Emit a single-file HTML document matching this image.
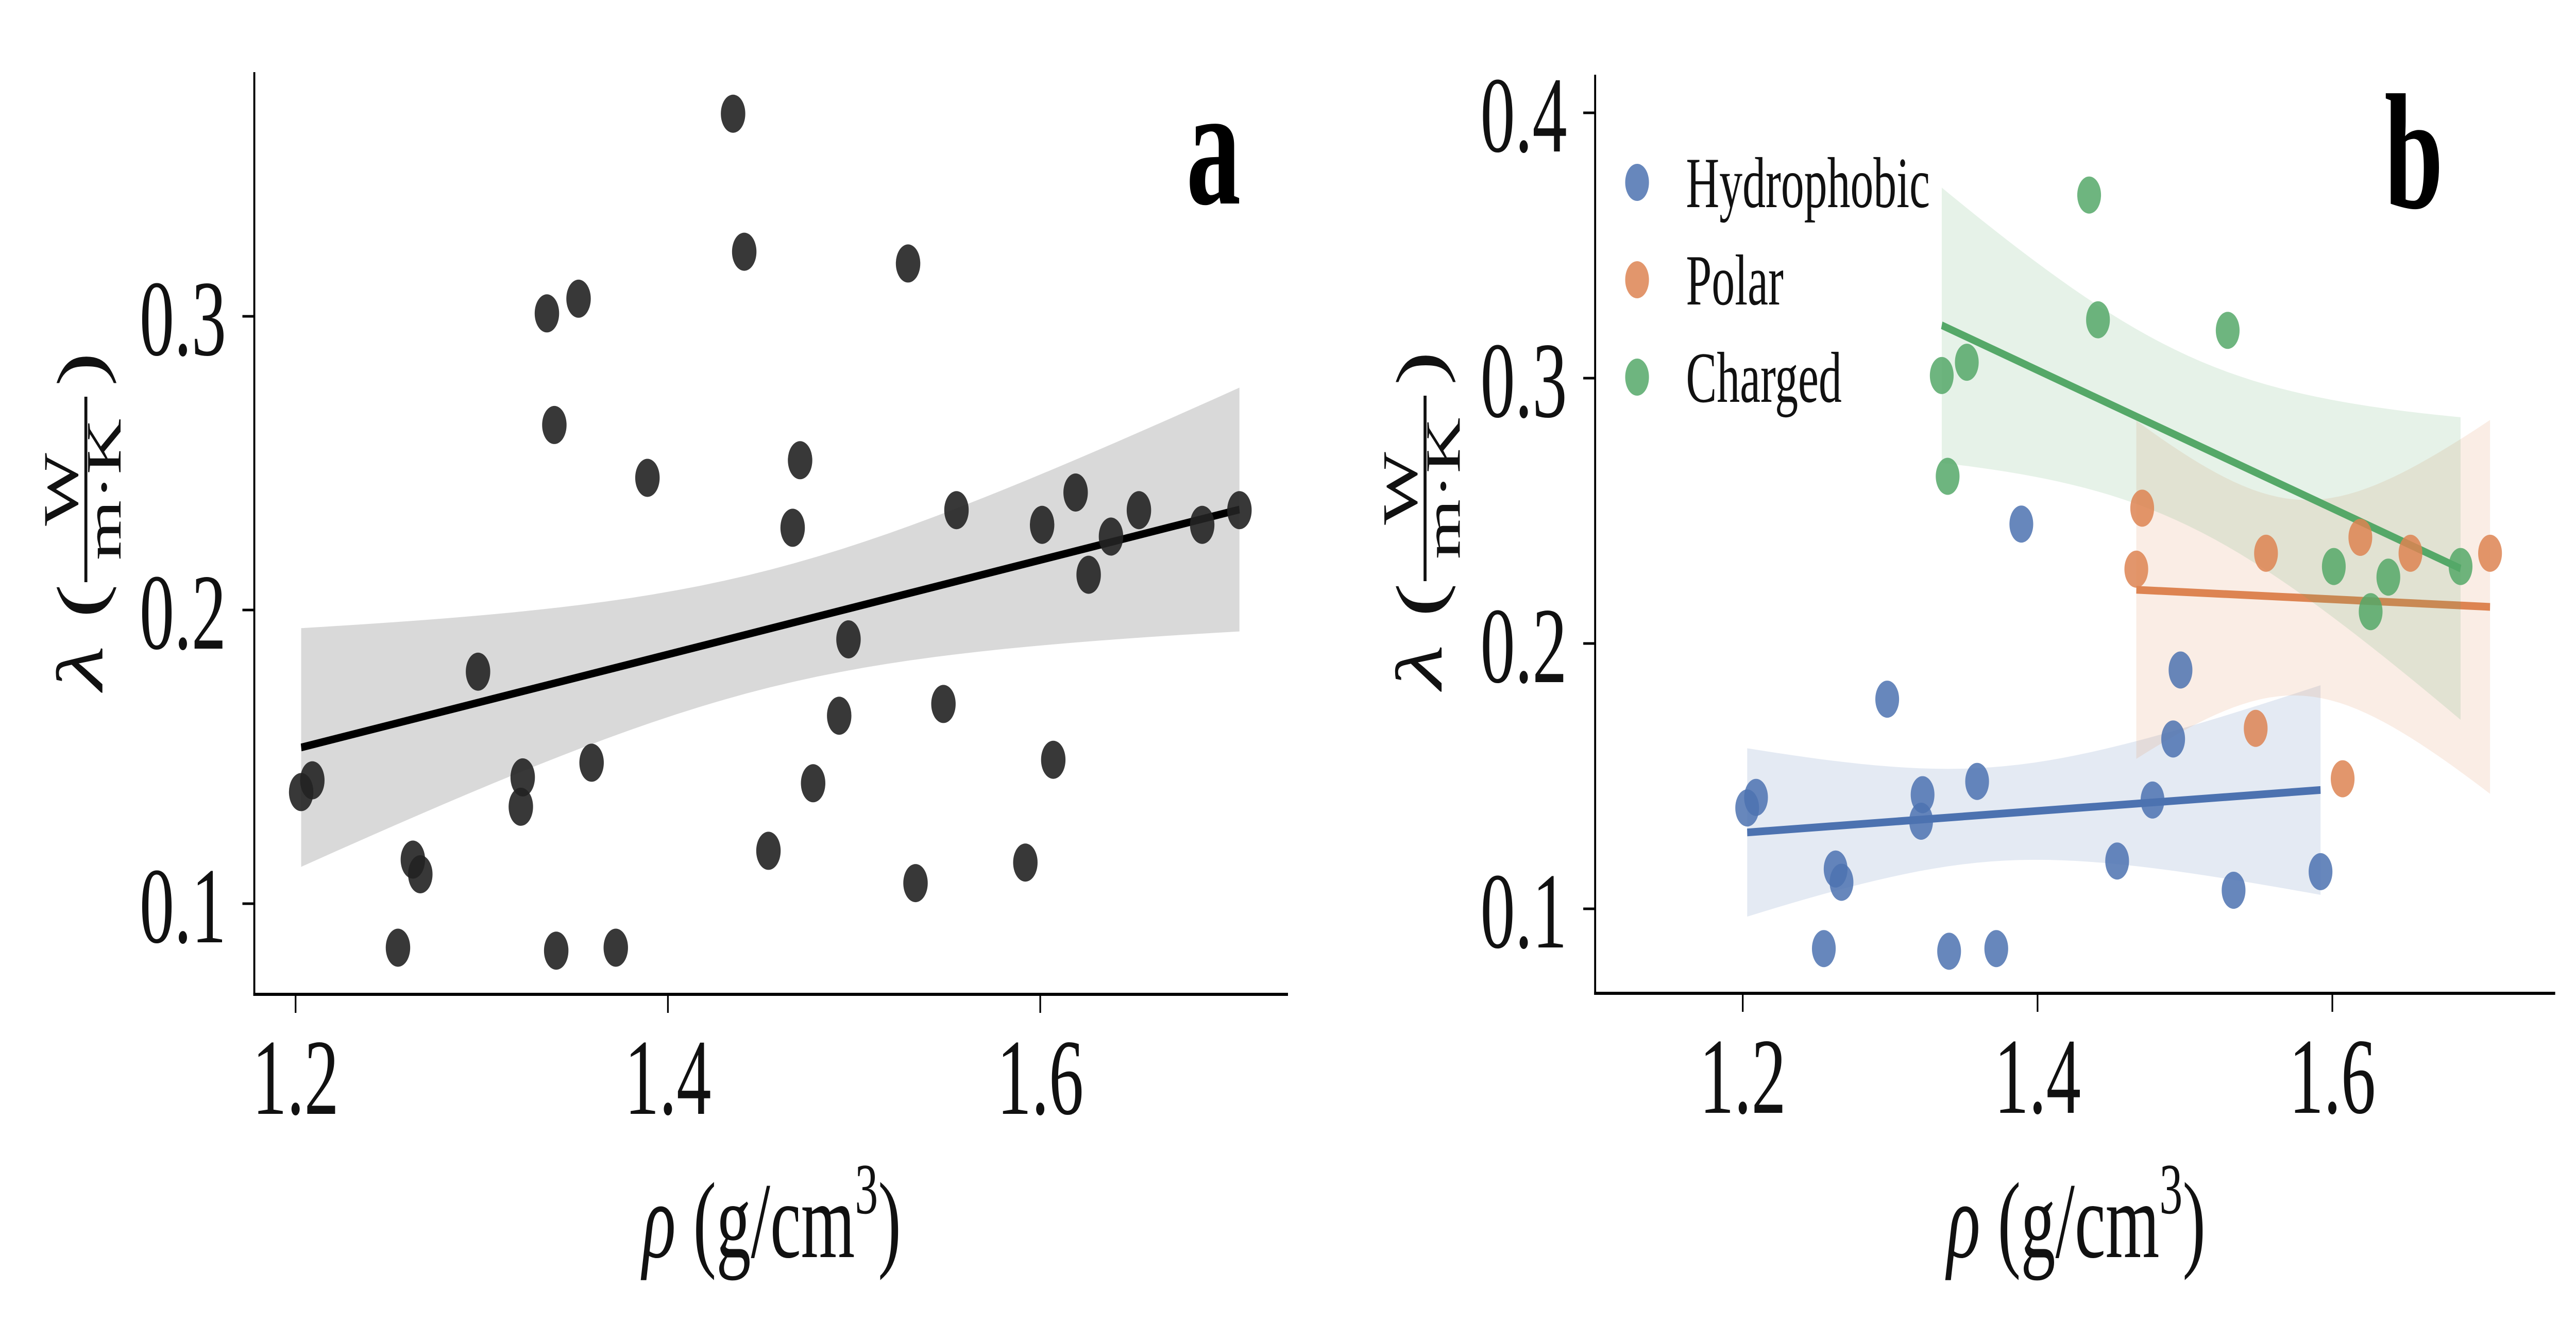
<!DOCTYPE html>
<html><head><meta charset="utf-8">
<style>
html,body{margin:0;padding:0;background:#fff;width:100%;height:100%;overflow:hidden;}
svg{display:block;width:100vw;height:100vh;font-family:"Liberation Serif",serif;}
</style></head>
<body>
<svg id="chart" xmlns="http://www.w3.org/2000/svg" viewBox="0 0 7800 2566" preserveAspectRatio="none">
<rect width="7800" height="2566" fill="#fff"/>
</svg>
<script>
const densityAll = [1.203,1.209,1.255,1.263,1.267,1.298,1.322,1.321,1.335,1.339,1.352,1.340,1.359,1.372,1.389,1.435,1.441,1.454,1.467,1.471,1.478,1.492,1.497,1.529,1.533,1.548,1.555,1.592,1.601,1.607,1.619,1.626,1.638,1.653,1.687,1.707];
const conductAll = [0.138,0.142,0.085,0.115,0.110,0.179,0.143,0.133,0.301,0.263,0.306,0.084,0.148,0.085,0.245,0.369,0.322,0.118,0.228,0.251,0.141,0.164,0.190,0.318,0.107,0.168,0.234,0.114,0.229,0.149,0.240,0.212,0.225,0.234,0.229,0.234];
const groupAll = ["H","H","H","H","H","H","H","H","C","C","C","H","H","H","H","C","C","H","P","P","H","H","H","C","H","P","P","H","C","P","P","C","C","P","C","P"];
const groupKeys = ["H","P","C"];
const groupLabels = ["Hydrophobic","Polar","Charged"];
const groupColors = ["#4c72b0","#dd8452","#55a868"];
const xTicks = [1.2,1.4,1.6];
const yTicksA = [0.1,0.2,0.3];
const yTicksB = [0.1,0.2,0.3,0.4];

const svg = document.getElementById('chart');
const NS = 'http://www.w3.org/2000/svg';
function mk(tag, attrs, parent){
  const e = document.createElementNS(NS, tag);
  for (const k in attrs) e.setAttribute(k, attrs[k]);
  (parent||svg).appendChild(e);
  return e;
}
const axA = {x:v=>895+(v-1.2)*5637, y:v=>614-(v-0.3)*5700, left:770, right:3900, top:140, bottom:1930};
const axB = {x:v=>5277+(v-1.2)*4463, y:v=>734-(v-0.3)*5150, left:4830, right:7737, top:145, bottom:1928};

function fit(xs, ys){
  const n=xs.length; const mx=xs.reduce((a,b)=>a+b,0)/n, my=ys.reduce((a,b)=>a+b,0)/n;
  let sxx=0,sxy=0; for(let i=0;i<n;i++){sxx+=(xs[i]-mx)**2; sxy+=(xs[i]-mx)*(ys[i]-my);}
  const b=sxy/sxx, a=my-b*mx; let sse=0;
  for(let i=0;i<n;i++) sse+=(ys[i]-a-b*xs[i])**2;
  const s=Math.sqrt(sse/Math.max(n-2,1));
  const t = n>30?1.65:(n>15?1.8:(n>9?2.4:2.6));
  return {a,b,mx,sxx,s,n,t,min:Math.min(...xs),max:Math.max(...xs)};
}
function drawFit(ax, xs, ys, color, bandOpacity, name){
  const f=fit(xs,ys); const N=40; let up=[], lo=[];
  for(let i=0;i<=N;i++){
    const x=f.min+(f.max-f.min)*i/N; const yh=f.a+f.b*x;
    const se=f.s*Math.sqrt(1/f.n+(x-f.mx)**2/f.sxx);
    up.push(ax.x(x)+','+ax.y(yh+f.t*se)); lo.unshift(ax.x(x)+','+ax.y(yh-f.t*se));
  }
  const band=mk('polygon',{points:up.concat(lo).join(' '),fill:color,'fill-opacity':bandOpacity,stroke:'none'});
  
  
  const ln=mk('line',{x1:ax.x(f.min),y1:ax.y(f.a+f.b*f.min),x2:ax.x(f.max),y2:ax.y(f.a+f.b*f.max),stroke:color,'stroke-width':15});
  
  
}
function drawAxes(ax, yTicks, prefix){
  const g=mk('g',{});
  
  
  mk('line',{x1:ax.left,y1:ax.top,x2:ax.left,y2:ax.bottom+3,stroke:'#000','stroke-width':6},g);
  mk('line',{x1:ax.left-3,y1:ax.bottom,x2:ax.right,y2:ax.bottom,stroke:'#000','stroke-width':6},g);
  xTicks.forEach(v=>{
    mk('line',{x1:ax.x(v),y1:ax.bottom,x2:ax.x(v),y2:ax.bottom+36,stroke:'#000','stroke-width':5},g);
    const t=mk('text',{x:ax.x(v),y:ax.bottom+232,'font-size':210,'text-anchor':'middle',fill:'#111'},g);
    t.textContent=v.toFixed(1);
    
    
  });
  yTicks.forEach(v=>{
    mk('line',{x1:ax.left-36,y1:ax.y(v),x2:ax.left,y2:ax.y(v),stroke:'#000','stroke-width':5},g);
    const t=mk('text',{x:ax.left-85,y:ax.y(v)+75,'font-size':210,'text-anchor':'end',fill:'#111'},g);
    t.textContent=v.toFixed(1);
    
    
  });
}
function yLabel(cx, cy, prefix){
  const g=mk('g',{transform:`translate(${cx},${cy}) rotate(-90)`});
  
  
  const l=mk('text',{x:-330,y:60,'font-size':200,'font-style':'italic',fill:'#111'},g); l.textContent='λ';
  const p1=mk('text',{x:-190,y:60,'font-size':200,fill:'#111'},g); p1.textContent='(';
  const w=mk('text',{x:60,y:-15,'font-size':150,'text-anchor':'middle',fill:'#111'},g); w.textContent='W';
  mk('line',{x1:-120,y1:10,x2:240,y2:10,stroke:'#111','stroke-width':9},g);
  const mkk=mk('text',{x:60,y:115,'font-size':150,'text-anchor':'middle',fill:'#111'},g); mkk.textContent='m·K';
  const p2=mk('text',{x:260,y:60,'font-size':200,fill:'#111'},g); p2.textContent=')';
}
function xLabel(cx, prefix){
  const t=mk('text',{x:cx,y:2440,'font-size':210,'text-anchor':'middle',fill:'#111'});
  
  
  t.innerHTML='<tspan font-style="italic">ρ</tspan> (g/cm<tspan font-size="140" dy="-85">3</tspan><tspan dy="85">)</tspan>';
}

drawAxes(axA, yTicksA, 'panel-a');
drawFit(axA, densityAll, conductAll, '#000', 0.15, 'panel-a');
densityAll.forEach((d,i)=>{
  const c=mk('circle',{cx:axA.x(d),cy:axA.y(conductAll[i]),r:37,fill:'#222','fill-opacity':0.9});
  
  
});
yLabel(250, 1010, 'panel-a');
xLabel(2337, 'panel-a');
const la=mk('text',{x:3592,y:395,'font-size':330,'font-weight':'bold',fill:'#000'}); la.textContent='a';



drawAxes(axB, yTicksB, 'panel-b');
groupKeys.forEach((k,gi)=>{
  const xs=[],ys=[]; densityAll.forEach((d,i)=>{ if(groupAll[i]===k){xs.push(d);ys.push(conductAll[i]);} });
  drawFit(axB, xs, ys, groupColors[gi], 0.15, 'panel-b-'+groupLabels[gi].toLowerCase());
});
groupKeys.forEach((k,gi)=>{
  densityAll.forEach((d,i)=>{ if(groupAll[i]!==k) return;
    const c=mk('circle',{cx:axB.x(d),cy:axB.y(conductAll[i]),r:36,fill:groupColors[gi],'fill-opacity':0.85});
    
    
  });
});
groupLabels.forEach((lab,gi)=>{
  const g=mk('g',{});
  
  
  const y=354+gi*189;
  mk('circle',{cx:4957,cy:y,r:36,fill:groupColors[gi],'fill-opacity':0.85},g);
  const t=mk('text',{x:5105,y:y+48,'font-size':140,fill:'#111'},g); t.textContent=lab;
});
yLabel(4305, 1008, 'panel-b');
xLabel(6287, 'panel-b');
const lb=mk('text',{x:7220,y:403,'font-size':320,'font-weight':'bold',fill:'#000'}); lb.textContent='b';


</script>
</body></html>
